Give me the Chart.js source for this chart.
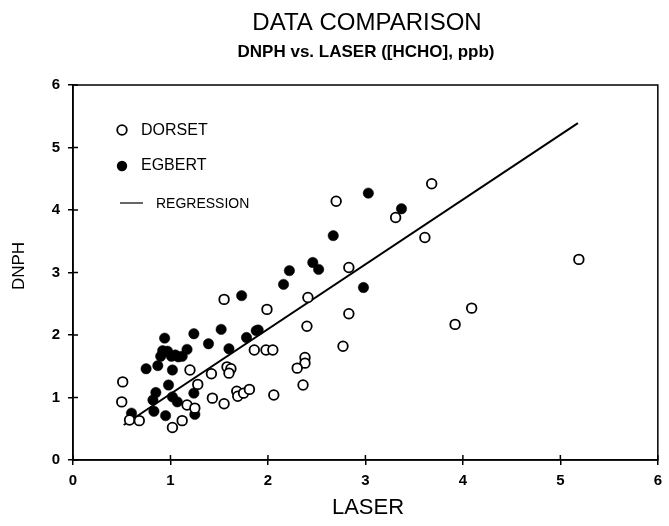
<!DOCTYPE html>
<html>
<head>
<meta charset="utf-8">
<script src="https://cdn.jsdelivr.net/npm/chart.js"></script>
<style>
  body { margin: 0; background: #fff; }
  #wrap { width: 669px; height: 526px; }
</style>
</head>
<body>
<div id="wrap"><canvas id="chart" width="669" height="526"></canvas></div>
<script>
const dorsetX = [0.51, 0.50, 0.58, 0.68, 1.02, 1.12, 1.17, 1.25, 1.28, 1.20, 1.42, 1.43, 1.55, 1.55,
    1.58, 1.62, 1.60, 1.68, 1.69, 1.75, 1.81, 1.86, 1.99, 1.98, 2.05, 2.06, 2.41, 2.40,
    2.38, 2.38, 2.30, 2.36, 2.77, 2.83, 2.83, 2.70, 3.31, 3.61, 3.68, 3.92, 4.09, 5.19];
const dorsetY = [1.25, 0.93, 0.64, 0.63, 0.52, 0.63, 0.88, 0.83, 1.21, 1.44, 1.38, 0.99, 0.90, 2.57,
    1.49, 1.46, 1.39, 1.10, 1.02, 1.07, 1.13, 1.76, 2.41, 1.76, 1.76, 1.04, 2.60, 2.14,
    1.64, 1.55, 1.47, 1.20, 1.82, 2.34, 3.08, 4.14, 3.88, 3.56, 4.42, 2.17, 2.43, 3.21];

const egbertX = [0.60, 0.75, 0.87, 0.90, 0.92, 0.94, 0.97, 1.01, 1.05, 1.08, 1.12, 1.17, 1.02,
    0.98, 0.85, 0.82, 1.02, 1.07, 1.24, 0.83, 0.95, 1.25, 1.24, 1.39, 1.52, 1.60, 1.73,
    1.78, 1.88, 1.90, 2.16, 2.22, 2.46, 2.52, 2.67, 2.98, 3.03, 3.37];
const egbertY = [0.75, 1.46, 1.51, 1.66, 1.75, 1.95, 1.74, 1.66, 1.68, 1.65, 1.66, 1.77, 1.44,
    1.20, 1.08, 0.96, 1.01, 0.93, 1.07, 0.78, 0.71, 0.73, 2.02, 1.86, 2.09, 1.78, 2.63,
    1.96, 2.07, 2.08, 2.81, 3.03, 3.16, 3.05, 3.59, 2.76, 4.27, 4.02];

// regression line end points
const regX = [0.52, 5.18];
const regY = [0.56, 5.39];

const xTicks = [0, 1, 2, 3, 4, 5, 6];
const yTicks = [0, 1, 2, 3, 4, 5, 6];

const font = '"Liberation Sans", Arial, sans-serif';

function toPoints(xs, ys) {
    return xs.map((x, i) => ({ x: x, y: ys[i] }));
}

// frame, inward ticks, titles and legend
const decorPlugin = {
    id: 'decor',
    afterDraw(chart) {
        const ctx = chart.ctx;
        const a = chart.chartArea;
        const xs = chart.scales.x, ys = chart.scales.y;
        ctx.save();
        ctx.strokeStyle = '#000';
        ctx.lineWidth = 1.5;
        ctx.strokeRect(a.left, a.top, a.right - a.left, a.bottom - a.top);

        ctx.beginPath();
        xTicks.forEach(t => {
            const px = xs.getPixelForValue(t);
            ctx.moveTo(px, a.bottom);
            ctx.lineTo(px, a.bottom - 5);
        });
        yTicks.forEach(t => {
            const py = ys.getPixelForValue(t);
            ctx.moveTo(a.left, py);
            ctx.lineTo(a.left + 5, py);
        });
        ctx.stroke();

        ctx.fillStyle = '#000';
        ctx.textAlign = 'center';
        ctx.textBaseline = 'middle';
        ctx.font = '24px ' + font;
        ctx.fillText('DATA COMPARISON', 367, 23);
        ctx.font = 'bold 17px ' + font;
        ctx.fillText('DNPH vs. LASER ([HCHO], ppb)', 366, 52);

        ctx.font = '22px ' + font;
        ctx.fillText('LASER', 368, 508);

        ctx.save();
        ctx.translate(19, 266);
        ctx.rotate(-Math.PI / 2);
        ctx.font = '17px ' + font;
        ctx.fillText('DNPH', 0, 0);
        ctx.restore();

        // legend
        ctx.textAlign = 'left';
        ctx.lineWidth = 1.8;
        ctx.beginPath();
        ctx.arc(122, 130, 4.8, 0, Math.PI * 2);
        ctx.stroke();
        ctx.beginPath();
        ctx.arc(122, 166, 5.2, 0, Math.PI * 2);
        ctx.fill();
        ctx.font = '16px ' + font;
        ctx.fillText('DORSET', 141, 131);
        ctx.fillText('EGBERT', 141, 166);
        ctx.lineWidth = 1.2;
        ctx.beginPath();
        ctx.moveTo(120, 203);
        ctx.lineTo(143, 203);
        ctx.stroke();
        ctx.font = '14px ' + font;
        ctx.fillText('REGRESSION', 156, 204);
        ctx.restore();
    }
};

new Chart(document.getElementById('chart'), {
    type: 'scatter',
    data: {
        datasets: [
            {
                label: 'DORSET',
                data: toPoints(dorsetX, dorsetY),
                pointStyle: 'circle',
                pointRadius: 4.8,
                pointBorderWidth: 1.8,
                pointBackgroundColor: '#fff',
                pointBorderColor: '#000'
            },
            {
                label: 'EGBERT',
                data: toPoints(egbertX, egbertY),
                pointStyle: 'circle',
                pointRadius: 5.2,
                pointBorderWidth: 0.5,
                pointBackgroundColor: '#000',
                pointBorderColor: '#000'
            },
            {
                label: 'REGRESSION',
                type: 'line',
                data: toPoints(regX, regY),
                borderColor: '#000',
                borderWidth: 2,
                pointRadius: 0,
                fill: false
            }
        ]
    },
    options: {
        responsive: false,
        animation: false,
        layout: { padding: { top: 85, right: 5, left: 0, bottom: 0 } },
        plugins: {
            legend: { display: false },
            title: { display: false },
            tooltip: { enabled: false }
        },
        scales: {
            x: {
                type: 'linear',
                min: 0,
                max: 6,
                afterFit(scale) { scale.height = 66; },
                afterBuildTicks(scale) { scale.ticks = xTicks.map(v => ({ value: v })); },
                grid: { drawOnChartArea: false, color: '#000', tickLength: 5, lineWidth: 1.5 },
                border: { color: '#000', width: 1.5 },
                ticks: { color: '#000', font: { family: font, size: 15, weight: 'bold' }, padding: 7, maxRotation: 0 }
            },
            y: {
                type: 'linear',
                min: 0,
                max: 6,
                afterFit(scale) { scale.width = 73; },
                afterBuildTicks(scale) { scale.ticks = yTicks.map(v => ({ value: v })); },
                grid: { drawOnChartArea: false, color: '#000', tickLength: 5, lineWidth: 1.5 },
                border: { color: '#000', width: 1.5 },
                ticks: { color: '#000', font: { family: font, size: 15, weight: 'bold' }, padding: 8 }
            }
        }
    },
    plugins: [decorPlugin]
});
</script>
</body>
</html>
